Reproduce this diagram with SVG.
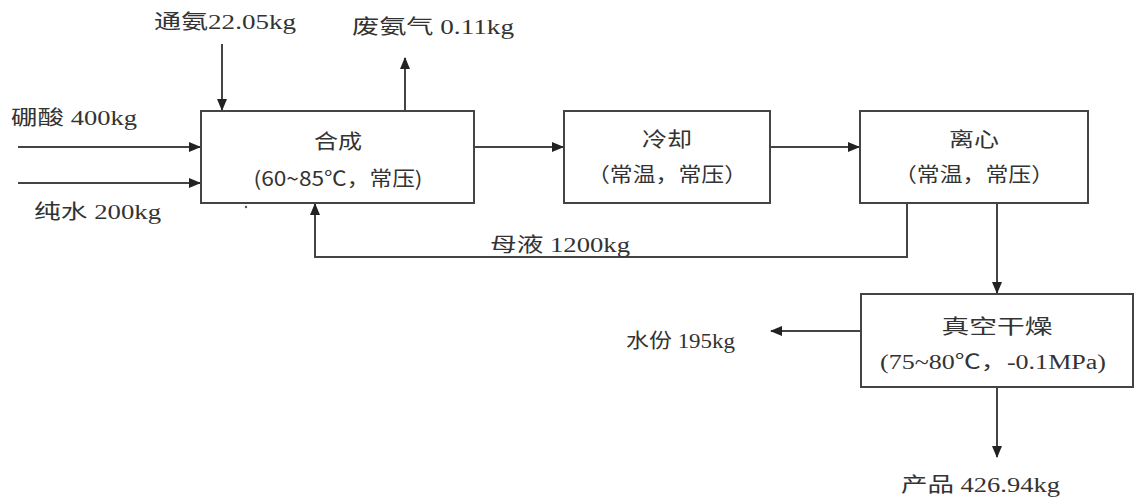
<svg xmlns="http://www.w3.org/2000/svg" width="1136" height="502" viewBox="0 0 1136 502">
<defs>
<marker id="ah" markerWidth="12" markerHeight="10" refX="11" refY="5" orient="auto" markerUnits="userSpaceOnUse">
<path d="M0,0 L12,5 L0,10 Z" fill="#222"/>
</marker>
<style>
.box{fill:#fff;stroke:#444;stroke-width:2}
.ln{fill:none;stroke:#444;stroke-width:2}
.lbl{font-family:"Liberation Serif","Noto Sans CJK SC",serif;font-size:20px;fill:#333}
.bt{font-family:"Noto Sans CJK SC","Liberation Sans",sans-serif;font-size:20px;fill:#333;text-anchor:middle}
.bs{font-family:"Liberation Serif","Noto Sans CJK SC",serif;font-size:20px;fill:#333;text-anchor:middle}
</style>
</defs>
<rect width="1136" height="502" fill="#fff"/>
<g id="connectors">
<path class="ln" d="M222,44 V110" marker-end="url(#ah)"/>
<path class="ln" d="M405,111 V58" marker-end="url(#ah)"/>
<path class="ln" d="M18,147 H200" marker-end="url(#ah)"/>
<path class="ln" d="M18,183 H200" marker-end="url(#ah)"/>
<path class="ln" d="M474,147 H563" marker-end="url(#ah)"/>
<path class="ln" d="M770,147 H859" marker-end="url(#ah)"/>
<path class="ln" d="M907,203 V257 H315 V204" marker-end="url(#ah)"/>
<path class="ln" d="M997,203 V293" marker-end="url(#ah)"/>
<path class="ln" d="M861,331 H771" marker-end="url(#ah)"/>
<path class="ln" d="M997,387 V457" marker-end="url(#ah)"/>
</g>
<g id="labels">
<text class="lbl" x="154" y="29" textLength="142" lengthAdjust="spacingAndGlyphs">通氨22.05kg</text>
<text class="lbl" x="352" y="34" textLength="162" lengthAdjust="spacingAndGlyphs">废氨气 0.11kg</text>
<text class="lbl" x="11" y="125" textLength="126" lengthAdjust="spacingAndGlyphs">硼酸 400kg</text>
<text class="lbl" x="34" y="219" textLength="127" lengthAdjust="spacingAndGlyphs">纯水 200kg</text>
<text class="lbl" x="490" y="252" textLength="140" lengthAdjust="spacingAndGlyphs">母液 1200kg</text>
<text class="lbl" x="626" y="348" font-size="18" textLength="109" lengthAdjust="spacingAndGlyphs">水份 195kg</text>
<text class="lbl" x="901" y="492" textLength="159" lengthAdjust="spacingAndGlyphs">产品 426.94kg</text>
<circle cx="246" cy="207" r="1.2" fill="#555"/>
</g>
<g id="n-synthesis">
<rect class="box" x="201" y="111" width="273" height="92"/>
<text class="bt" x="338" y="149" textLength="48" lengthAdjust="spacingAndGlyphs">合成</text>
<text class="bt" x="338" y="186" textLength="169" lengthAdjust="spacingAndGlyphs">(60~85℃，常压)</text>
</g>
<g id="n-cooling">
<rect class="box" x="564" y="111" width="206" height="92"/>
<text class="bt" x="667" y="147" textLength="50" lengthAdjust="spacingAndGlyphs">冷却</text>
<text class="bt" x="667" y="182" textLength="160" lengthAdjust="spacingAndGlyphs">（常温，常压）</text>
</g>
<g id="n-centrifuge">
<rect class="box" x="860" y="111" width="228" height="92"/>
<text class="bt" x="974" y="147" textLength="50" lengthAdjust="spacingAndGlyphs">离心</text>
<text class="bt" x="974" y="182" textLength="160" lengthAdjust="spacingAndGlyphs">（常温，常压）</text>
</g>
<g id="n-drying">
<rect class="box" x="861" y="294" width="272" height="93"/>
<text class="bt" x="997" y="334" font-size="21" textLength="111" lengthAdjust="spacingAndGlyphs">真空干燥</text>
<text class="bs" x="993" y="369" textLength="226" lengthAdjust="spacingAndGlyphs">(75~80℃，-0.1MPa)</text>
</g>
</svg>
